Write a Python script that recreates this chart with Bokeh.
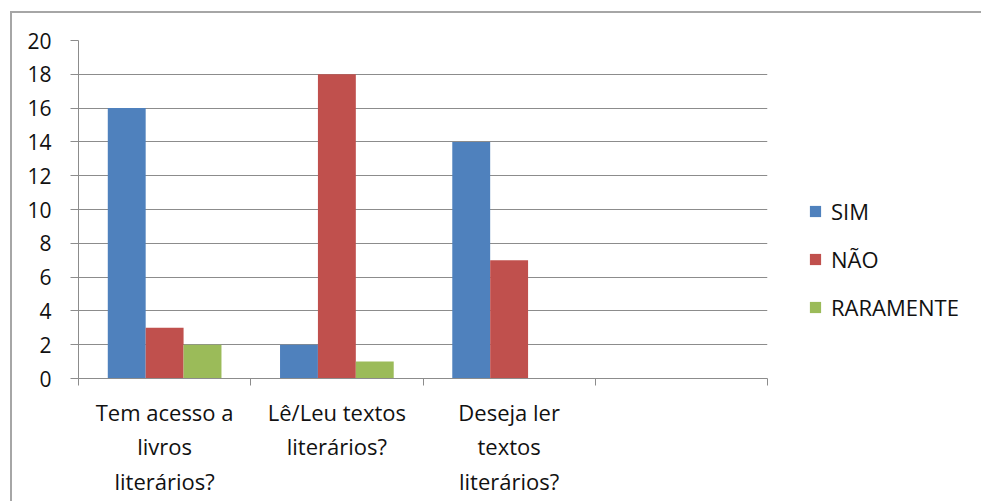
from bokeh.plotting import figure
from bokeh.models import ColumnDataSource, FixedTicker, Legend, LegendItem, Range1d
from bokeh.transform import dodge
from bokeh.embed import file_html
from bokeh.resources import INLINE

categories = ["Tem acesso a\nlivros\nliterários?", "Lê/Leu textos\nliterários?", "Deseja ler\ntextos\nliterários?", ""]
series_names = ["SIM", "NÃO", "RARAMENTE"]
sim = [16, 2, 14]
nao = [3, 18, 7]
raramente = [2, 1, 0]
colors = ["#4F81BD", "#C0504D", "#9BBB59"]
y_ticks = list(range(0, 21, 2))

FONT = "Open Sans"
GRAY = "#8c8c8c"

xpos = [i + 0.5 for i in range(len(sim))]
src = ColumnDataSource(dict(x=xpos, sim=sim, nao=nao, rar=raramente))

p = figure(frame_width=689, frame_height=338, output_backend="svg", toolbar_location=None,
           x_range=Range1d(0, len(categories)), y_range=Range1d(0, 20),
           min_border_left=66, min_border_right=200, min_border_top=27, min_border_bottom=123,
           margin=(11, 0, 0, 10))
p.styles = {"border-top": "2px solid #a6a6a6", "border-left": "2px solid #a6a6a6"}
p.outline_line_color = None

w = 0.22
renderers = []
for col, off, c in zip(["sim", "nao", "rar"], [-w, 0, w], colors):
    r = p.vbar(x=dodge("x", off, range=p.x_range), top=col, width=w, bottom=0,
               source=src, fill_color=c, line_color=None)
    renderers.append(r)

# x axis
p.xaxis.ticker = FixedTicker(ticks=[i + 0.5 for i in range(len(categories))],
                             minor_ticks=list(range(len(categories) + 1)))
p.xaxis.major_label_overrides = {i + 0.5: lab for i, lab in enumerate(categories)}
p.xaxis.major_tick_out = 0
p.xaxis.major_tick_in = 0
p.xaxis.minor_tick_out = 7
p.xaxis.minor_tick_in = 0
p.xaxis.minor_tick_line_color = GRAY
p.xaxis.axis_line_color = GRAY
p.xaxis.major_label_text_font = FONT
p.xaxis.major_label_text_font_size = "22px"
p.xaxis.major_label_text_color = "#111111"
p.xaxis.major_label_text_line_height = 1.15
p.xaxis.major_label_standoff = 11
p.xgrid.grid_line_color = None

# y axis
p.yaxis.ticker = FixedTicker(ticks=y_ticks)
p.yaxis.major_tick_out = 8
p.yaxis.major_tick_in = 0
p.yaxis.minor_tick_line_color = None
p.yaxis.major_tick_line_color = GRAY
p.yaxis.axis_line_color = GRAY
p.yaxis.major_label_text_font = FONT
p.yaxis.major_label_text_font_size = "21px"
p.yaxis.major_label_text_color = "#111111"
p.yaxis.major_label_standoff = 19
p.ygrid.grid_line_color = GRAY
p.ygrid.grid_line_width = 1

legend = Legend(items=[LegendItem(label=n, renderers=[r]) for n, r in zip(series_names, renderers)],
                location=(41, 56), border_line_color=None, background_fill_alpha=0,
                glyph_width=14, glyph_height=14, label_text_font=FONT,
                label_text_font_size="22px", label_text_color="#111111",
                spacing=18, padding=0, margin=0, label_standoff=9, label_height=27)
p.add_layout(legend, "right")

open("out.html", "w").write(file_html(p, INLINE))
